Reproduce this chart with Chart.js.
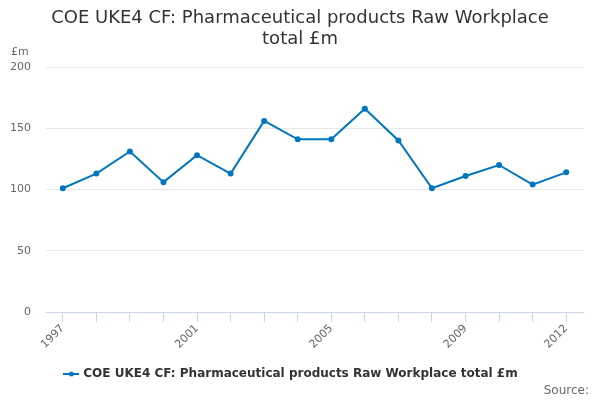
<!DOCTYPE html>
<html>
<head>
<meta charset="utf-8">
<script src="https://cdn.jsdelivr.net/npm/chart.js@4"></script>
<style>
  html, body { margin: 0; padding: 0; background: #fff; }
  #wrap { width: 600px; height: 400px; }
</style>
</head>
<body>
<div id="wrap"><canvas id="chart" width="600" height="400"></canvas></div>
<script>
// Dados
var years = ['1997', '1998', '1999', '2000', '2001', '2002', '2003', '2004',
  '2005', '2006', '2007', '2008', '2009', '2010', '2011', '2012']
var values = [101, 113, 131, 106, 128, 113, 156, 141, 141, 166, 140, 101, 111, 120, 104, 114]
var shownYears = ['1997', '2001', '2005', '2009', '2012']
var seriesName = 'COE UKE4 CF: Pharmaceutical products Raw Workplace total £m'
var titleLines = ['COE UKE4 CF: Pharmaceutical products Raw Workplace', 'total £m']
var yUnit = '£m'
var sourceText = 'Source:'

var lineColor = '#0077bd'
var font = 'DejaVu Sans'

// Símbolo da legenda: linha com ponto
var sym = document.createElement('canvas')
sym.width = 16
sym.height = 8
var sctx = sym.getContext('2d')
sctx.strokeStyle = lineColor
sctx.lineWidth = 2
sctx.beginPath()
sctx.moveTo(0, 4)
sctx.lineTo(16, 4)
sctx.stroke()
sctx.fillStyle = lineColor
sctx.beginPath()
sctx.arc(8, 4, 2.5, 0, Math.PI * 2)
sctx.fill()

// Título, unidade e fonte desenhados à parte (centrados na página)
var extraText = {
  id: 'extraText',
  afterDraw: function(chart) {
    var ctx = chart.ctx
    ctx.save()
    ctx.fillStyle = '#333333'
    ctx.font = '18px "' + font + '"'
    ctx.textAlign = 'center'
    ctx.textBaseline = 'middle'
    ctx.fillText(titleLines[0], 300, 18)
    ctx.fillText(titleLines[1], 300, 39)
    ctx.fillStyle = '#666666'
    ctx.font = '11px "' + font + '"'
    ctx.textAlign = 'left'
    ctx.fillText(yUnit, 11, 52)
    ctx.font = '12px "' + font + '"'
    ctx.textAlign = 'right'
    ctx.fillText(sourceText, 589, 391)
    ctx.restore()
  }
}

var chart = new Chart(document.getElementById('chart'), {
  type: 'line',
  data: {
    labels: years,
    datasets: [
      {
        label: seriesName,
        data: values,
        borderColor: lineColor,
        backgroundColor: lineColor,
        borderWidth: 2,
        pointRadius: 2,
        pointHoverRadius: 3,
        tension: 0
      }
    ]
  },
  options: {
    responsive: false,
    animation: false,
    layout: {
      padding: { left: 0, right: 17, top: 67, bottom: 10 }
    },
    plugins: {
      title: { display: false },
      legend: {
        position: 'bottom',
        labels: {
          color: '#333333',
          font: { family: font, size: 12, weight: 'bold' },
          usePointStyle: true,
          pointStyle: sym,
          padding: 10
        }
      },
      tooltip: { enabled: false }
    },
    scales: {
      x: {
        offset: true,
        grid: {
          display: true,
          drawOnChartArea: false,
          drawTicks: true,
          tickLength: 10,
          color: '#ccd6eb',
          offset: false
        },
        border: { color: '#ccd6eb' },
        ticks: {
          autoSkip: false,
          maxRotation: 45,
          minRotation: 45,
          color: '#666666',
          font: { family: font, size: 11 },
          padding: 0,
          callback: function(v, i) {
            return shownYears.indexOf(years[i]) >= 0 ? years[i] : ''
          }
        },
        afterFit: function(s) { s.height = 46 }
      },
      y: {
        min: 0,
        max: 200,
        grid: { color: '#e6e6e6', drawTicks: false },
        border: { display: false },
        ticks: {
          stepSize: 50,
          color: '#666666',
          font: { family: font, size: 11 },
          padding: 15
        },
        afterFit: function(s) { s.width = 46 }
      }
    }
  },
  plugins: [extraText]
});
</script>
</body>
</html>
